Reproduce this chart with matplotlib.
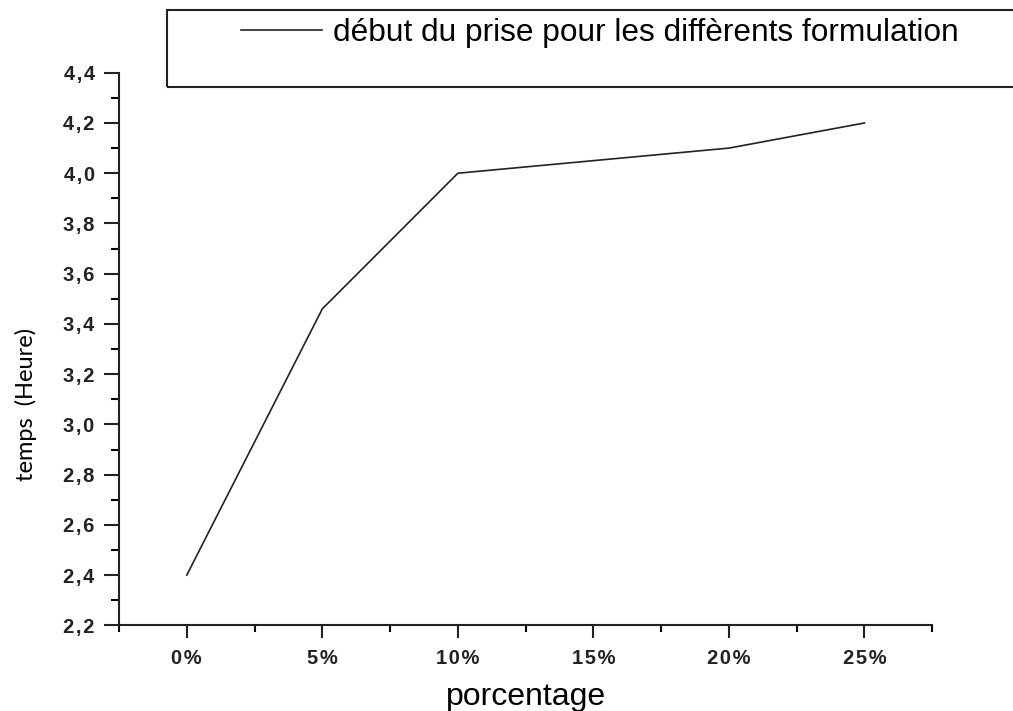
import matplotlib
matplotlib.use("Agg")
import matplotlib.pyplot as plt
from matplotlib.patches import Rectangle
from matplotlib.ticker import MultipleLocator, FuncFormatter

# data
pourcentage = [0, 5, 10, 20, 25]
temps = [2.40, 3.46, 4.00, 4.10, 4.20]
serie_label = "début du prise pour les diffèrents formulation"

plt.rcParams["font.family"] = ["Liberation Sans", "DejaVu Sans"]

fig = plt.figure(figsize=(10.13, 7.11), dpi=100)
ax = fig.add_axes([0.1175, 0.1205, 0.8028, 0.7772])

ax.plot(pourcentage, temps, color="#222222", linewidth=1.2, label=serie_label)

ax.set_xlim(-2.5, 27.5)
ax.set_ylim(2.2, 4.4)
ax.xaxis.set_major_locator(MultipleLocator(5))
ax.xaxis.set_minor_locator(MultipleLocator(2.5))
ax.yaxis.set_major_locator(MultipleLocator(0.2))
ax.yaxis.set_minor_locator(MultipleLocator(0.1))


def spaced(s):
    return "\u200a".join(s)


ax.xaxis.set_major_formatter(FuncFormatter(lambda v, p: spaced(f"{v:.0f}%")))
ax.yaxis.set_major_formatter(FuncFormatter(lambda v, p: spaced(f"{v:.1f}".replace(".", ","))))

for side in ("top", "right"):
    ax.spines[side].set_visible(False)
for side in ("left", "bottom"):
    ax.spines[side].set_linewidth(1.5)
    ax.spines[side].set_color("#222222")

ax.tick_params(axis="x", which="major", direction="out", length=9, width=1.5, pad=8,
               labelsize=14.5, colors="#222222")
ax.tick_params(axis="x", which="minor", direction="out", length=5, width=1.5)
ax.tick_params(axis="y", which="major", direction="out", length=10.5, width=1.5, pad=7,
               labelsize=14.5, colors="#222222")
ax.tick_params(axis="y", which="minor", direction="out", length=6, width=1.5)
for lab in ax.get_xticklabels() + ax.get_yticklabels():
    lab.set_fontweight("bold")

ax.set_xlabel("porcentage", fontsize=23, labelpad=10)
ax.set_ylabel("temps  (Heure)", fontsize=17, family="Lato")
ax.yaxis.set_label_coords(-0.101, 0.40)

# legend box (Origin style, runs off the right edge)
fig.patches.append(Rectangle((167 / 1013, 1 - 87 / 711), 1.0, 77 / 711,
                             transform=fig.transFigure, fill=False,
                             edgecolor="#222222", linewidth=1.5))
ax.legend(loc="center left", bbox_to_anchor=(241 / 1013, 1 - 33 / 711),
          bbox_transform=fig.transFigure, frameon=False, fontsize=22.8,
          handlelength=2.56, handletextpad=0.33, borderaxespad=0, borderpad=0)

fig.savefig("out.png", dpi=100)
